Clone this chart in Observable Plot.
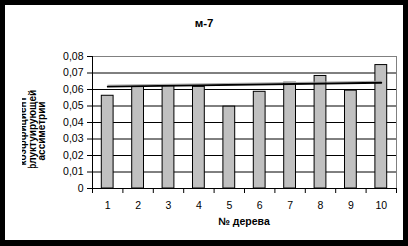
<!DOCTYPE html>
<html><head><meta charset="utf-8">
<script src="https://cdn.jsdelivr.net/npm/d3@7"></script>
<script src="https://cdn.jsdelivr.net/npm/@observablehq/plot@0.6"></script>
<style>
html,body{margin:0;padding:0;background:#000;width:408px;height:246px;overflow:hidden}
#chart{position:absolute;left:5px;top:5px;width:398px;height:235px;background:#fff}
</style></head><body><div id="chart"></div>
<script>
const trees = [1, 2, 3, 4, 5, 6, 7, 8, 9, 10];
const values = [0.0562, 0.0616, 0.0621, 0.0616, 0.0496, 0.0586, 0.0641, 0.0682, 0.0593, 0.0748];
const trendTrees = [1, 10];
const trendValues = [0.0617, 0.0641];
const yTicks = [0, 0.01, 0.02, 0.03, 0.04, 0.05, 0.06, 0.07, 0.08];
const titleText = "м-7";
const xTitle = "№ дерева";
const yTitleLines = ["коэффициент", "флуктуирующей", "ассиметрии"];

const rows = trees.map((t, i) => ({tree: t, value: values[i]}));
const trend = trendTrees.map((t, i) => ({tree: t, value: trendValues[i]}));
const boundaries = trees.map(t => t - 0.5).concat([trees[trees.length - 1] + 0.5]);
const grid = yTicks.filter(v => v > 0 && v < yTicks[yTicks.length - 1]);
const fmt = d => d === 0 ? "0" : d.toFixed(2).replace(".", ",");

const W = 398, H = 235;
const plot = Plot.plot({
  width: W, height: H,
  marginLeft: 87, marginRight: 7, marginTop: 51, marginBottom: 52,
  style: {fontFamily: "'Liberation Sans', Arial, sans-serif", fontSize: "10.5px", color: "#000", background: "#fff"},
  x: {type: "linear", domain: [boundaries[0], boundaries[boundaries.length - 1]]},
  y: {domain: [0, yTicks[yTicks.length - 1]]},
  marks: [
    Plot.ruleY(grid, {stroke: "#000", strokeWidth: 1}),
    Plot.ruleY([yTicks[yTicks.length - 1]], {stroke: "#808080", strokeWidth: 1}),
    Plot.ruleX([boundaries[boundaries.length - 1]], {stroke: "#808080", strokeWidth: 1}),
    Plot.rectY(rows, {x1: d => d.tree - 0.5, x2: d => d.tree + 0.5, y: "value", insetLeft: 9.3, insetRight: 9.3, fill: "#c0c0c0", stroke: "#000", strokeWidth: 1}),
    Plot.line(trend, {x: "tree", y: "value", stroke: "#aaa", strokeWidth: 1, dy: -1.5}),
    Plot.line(trend, {x: "tree", y: "value", stroke: "#000", strokeWidth: 1.8}),
    Plot.ruleX([boundaries[0]], {stroke: "#000", strokeWidth: 1}),
    Plot.ruleY([0], {stroke: "#000", strokeWidth: 1}),
    Plot.axisY({ticks: yTicks, tickSize: 5, tickPadding: 4, tickFormat: fmt, label: null, strokeWidth: 1}),
    Plot.axisX({ticks: boundaries, tickSize: 5, tickFormat: () => "", label: null}),
    Plot.axisX({ticks: trees, tickSize: 0, tickPadding: 13, tickFormat: d => String(d), label: null})
  ]
});
document.getElementById("chart").appendChild(plot);

const svg = d3.select(plot);
const font = "'Liberation Sans', Arial, sans-serif";
svg.append("text").attr("x", 199).attr("y", 22).attr("text-anchor", "middle")
  .attr("font-family", font).attr("font-size", "11.5px").attr("font-weight", "bold").text(titleText);
svg.append("text").attr("x", (87 + W - 7) / 2).attr("y", 220).attr("text-anchor", "middle")
  .attr("font-family", font).attr("font-size", "10.5px").attr("font-weight", "bold").text(xTitle);

svg.append("clipPath").attr("id", "ytclip").append("rect")
  .attr("x", 17).attr("y", 0).attr("width", 60).attr("height", 163);
const yt = svg.append("g").attr("clip-path", "url(#ytclip)");
const lineX = [21, 30.5, 40];
yTitleLines.forEach((s, i) => {
  yt.append("text").attr("transform", `translate(${lineX[i]},126) rotate(-90)`)
    .attr("text-anchor", "middle").attr("font-family", font).attr("font-size", "10px")
    .attr("font-weight", "bold").text(s);
});
</script></body></html>
